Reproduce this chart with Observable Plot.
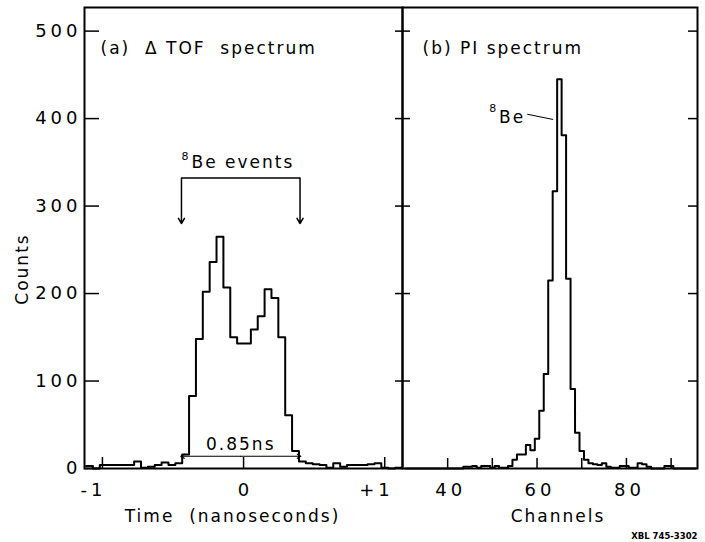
<!DOCTYPE html>
<html>
<head>
<meta charset="utf-8">
<script src="https://cdn.jsdelivr.net/npm/d3@7"></script>
<script src="https://cdn.jsdelivr.net/npm/@observablehq/plot@0.6"></script>
<style>
  body { margin: 0; background: #fff; }
  #chart { position: relative; width: 705px; height: 542px; }
  #chart svg { position: absolute; left: 0; top: 0; overflow: visible; }
  #chart text { letter-spacing: 2px; }
  #chart g[aria-label$="tick label"] text { letter-spacing: 4px; }
  #chart .tag text { letter-spacing: 0; }
</style>
</head>
<body>
<div id="chart"></div>
<script>
// (a) ΔTOF spectrum: counts per time bin, bins of equal width (ns)
const tofBinStart = -1.1159;
const tofBinWidth = 0.04865;
const tofCounts = [
  3, 0, 4, 4, 4, 4, 4, 8, 1, 2, 4, 7, 4, 6,
  16, 83, 148, 202, 236, 265, 207, 150, 143, 143, 159, 174, 205, 195, 150, 61, 20,
  8, 6, 5, 4, 1, 6, 2, 4, 4, 4, 5, 6, 1, 0, 1
];

// (b) PI spectrum: counts per channel, channels 31..95
const piChannels = d3.range(31, 96);
const piCounts = [
  0, 0, 0, 0, 0, 0, 0, 0, 0, 0, 0, 0, 0,
  2, 2, 3, 1, 3, 3, 1, 3, 1, 1, 3, 10, 16, 16, 27, 21, 34, 66, 108, 215, 317,
  445, 381, 217, 91, 41, 20, 10, 6, 5, 4, 6, 2, 1, 1, 3, 3, 1, 1, 6, 5, 2,
  0, 0, 0, 3, 3, 0, 0, 0, 0, 0
];

// axis ticks
const countTicks = [0, 100, 200, 300, 400, 500];
const timeTicks = [-1, 0, 1];
const channelTicks = [40, 50, 60, 70, 80, 90];
const channelLabels = [40, 60, 80];

// annotations
const eventWindow = [-0.44, 0.40];   // 8Be events bracket (ns)
const bracketLevel = 332, bracketTip = 280;
const fwhmStart = -0.445, fwhm = 0.85, fwhmLevel = 14;
const beLeader = [{x: 57.8, y: 405}, {x: 63.6, y: 399}];

const FONT = "'DejaVu Sans', sans-serif";
const INK = "#000";
const W = 705, H = 542;
const TOP = 7, BOTTOM = 74;

// step outline of a histogram from bin left edges
function outline(starts, width, counts) {
  const pts = counts.map((c, i) => ({x: starts[i], y: c}));
  pts.push({x: starts[starts.length - 1] + width, y: counts[counts.length - 1]});
  return pts;
}

const tofStarts = tofCounts.map((_, i) => tofBinStart + i * tofBinWidth);
const tofLine = outline(tofStarts, tofBinWidth, tofCounts);
const piLine = outline(piChannels.map(c => c - 0.5), 1, piCounts);

const leftInner = 402 - 84;
const left = Plot.plot({
  width: W, height: H,
  marginLeft: 84, marginRight: W - 402, marginTop: TOP, marginBottom: BOTTOM,
  x: {domain: [-1.127, 1.126]},
  y: {domain: [0, 527]},
  style: {background: "transparent", fontFamily: FONT, fontSize: "18px", color: INK},
  marks: [
    Plot.frame({strokeWidth: 2}),
    Plot.tickY(countTicks, {y: d => d, insetRight: leftInner - 15, strokeWidth: 1.5}),
    Plot.tickX(timeTicks, {x: d => d, insetTop: (H - TOP - BOTTOM) - 11, strokeWidth: 1.5}),
    Plot.axisY(countTicks, {tickSize: 0, tickPadding: 3, label: null}),
    Plot.axisX([0], {tickSize: 0, tickPadding: 15, label: null, tickFormat: d => "0", dx: 2}),
    Plot.axisX([-1], {tickSize: 0, tickPadding: 15, label: null, textAnchor: "end", dx: 4, tickFormat: d => "-1"}),
    Plot.axisX([1], {tickSize: 0, tickPadding: 15, label: null, textAnchor: "end", dx: 9, tickFormat: d => "+1"}),
    Plot.line(tofLine, {x: "x", y: "y", curve: "step-after", strokeWidth: 2, stroke: INK}),
    // 8Be events bracket
    Plot.link([eventWindow], {x1: d => d[0], x2: d => d[1], y1: () => bracketLevel, y2: () => bracketLevel, strokeWidth: 1.5, stroke: INK}),
    Plot.arrow(eventWindow, {x1: d => d, x2: d => d, y1: () => bracketLevel, y2: () => bracketTip, headLength: 6, strokeWidth: 1.5, stroke: INK}),
    Plot.text(["Be events"], {x: () => eventWindow[0], y: () => bracketLevel, dx: 10, dy: -16, textAnchor: "start", lineAnchor: "middle", fontSize: 17}),
    Plot.text(["8"], {x: () => eventWindow[0], y: () => bracketLevel, dx: 0, dy: -22, textAnchor: "start", lineAnchor: "middle", fontSize: 11, className: "tag"}),
    // 0.85 ns width marker
    Plot.arrow([fwhmStart, fwhmStart + fwhm], {x1: () => fwhmStart + fwhm / 2, x2: d => d, y1: () => fwhmLevel, y2: () => fwhmLevel, headLength: 5, strokeWidth: 1.2, stroke: INK}),
    Plot.text(["0.85ns"], {x: () => fwhmStart + fwhm / 2, y: () => fwhmLevel, dy: -12, lineAnchor: "middle", fontSize: 17}),
    // panel title and axis titles
    Plot.text(["(a)  Δ TOF  spectrum"], {frameAnchor: "top-left", dx: 16, dy: 41, textAnchor: "start", lineAnchor: "middle", fontSize: 17}),
    Plot.text(["Counts"], {frameAnchor: "left", rotate: -90, dx: -62, dy: 31, textAnchor: "middle", lineAnchor: "middle", fontSize: 17}),
    Plot.text(["Time  (nanoseconds)"], {frameAnchor: "bottom", dx: -11, dy: 48, textAnchor: "middle", lineAnchor: "middle", fontSize: 17})
  ]
});

const rightInner = 697 - 402;
const right = Plot.plot({
  width: W, height: H,
  marginLeft: 402, marginRight: W - 697, marginTop: TOP, marginBottom: BOTTOM,
  x: {domain: [29.9, 95.9]},
  y: {domain: [0, 527], axis: null},
  style: {background: "transparent", fontFamily: FONT, fontSize: "18px", color: INK},
  marks: [
    Plot.frame({strokeWidth: 2}),
    Plot.tickY(countTicks.slice(1), {y: d => d, insetRight: rightInner - 15, dx: -7, strokeWidth: 1.5}),
    Plot.tickY(countTicks.slice(1), {y: d => d, insetLeft: rightInner - 9, strokeWidth: 1.5}),
    Plot.tickX(channelTicks, {x: d => d, insetTop: (H - TOP - BOTTOM) - 10, strokeWidth: 1.5}),
    Plot.axisX(channelLabels, {tickSize: 0, tickPadding: 15, label: null, dx: 3}),
    Plot.line(piLine, {x: "x", y: "y", curve: "step-after", strokeWidth: 2, stroke: INK}),
    Plot.link([beLeader], {x1: d => d[0].x, y1: d => d[0].y, x2: d => d[1].x, y2: d => d[1].y, strokeWidth: 1, stroke: INK}),
    Plot.text(["Be"], {x: () => beLeader[0].x, y: () => beLeader[0].y, dx: -2, dy: 3, textAnchor: "end", lineAnchor: "middle", fontSize: 17}),
    Plot.text(["8"], {x: () => beLeader[0].x, y: () => beLeader[0].y, dx: -31, dy: -6, textAnchor: "end", lineAnchor: "middle", fontSize: 11, className: "tag"}),
    Plot.text(["(b) PI spectrum"], {frameAnchor: "top-left", dx: 20, dy: 41, textAnchor: "start", lineAnchor: "middle", fontSize: 17}),
    Plot.text(["Channels"], {frameAnchor: "bottom", dx: 8, dy: 48, textAnchor: "middle", lineAnchor: "middle", fontSize: 17}),
    Plot.text(["XBL 745-3302"], {frameAnchor: "bottom-right", dy: 68, textAnchor: "end", lineAnchor: "middle", fontSize: 8.5, fontWeight: "bold", className: "tag"})
  ]
});

document.getElementById("chart").append(left, right);
</script>
</body>
</html>
